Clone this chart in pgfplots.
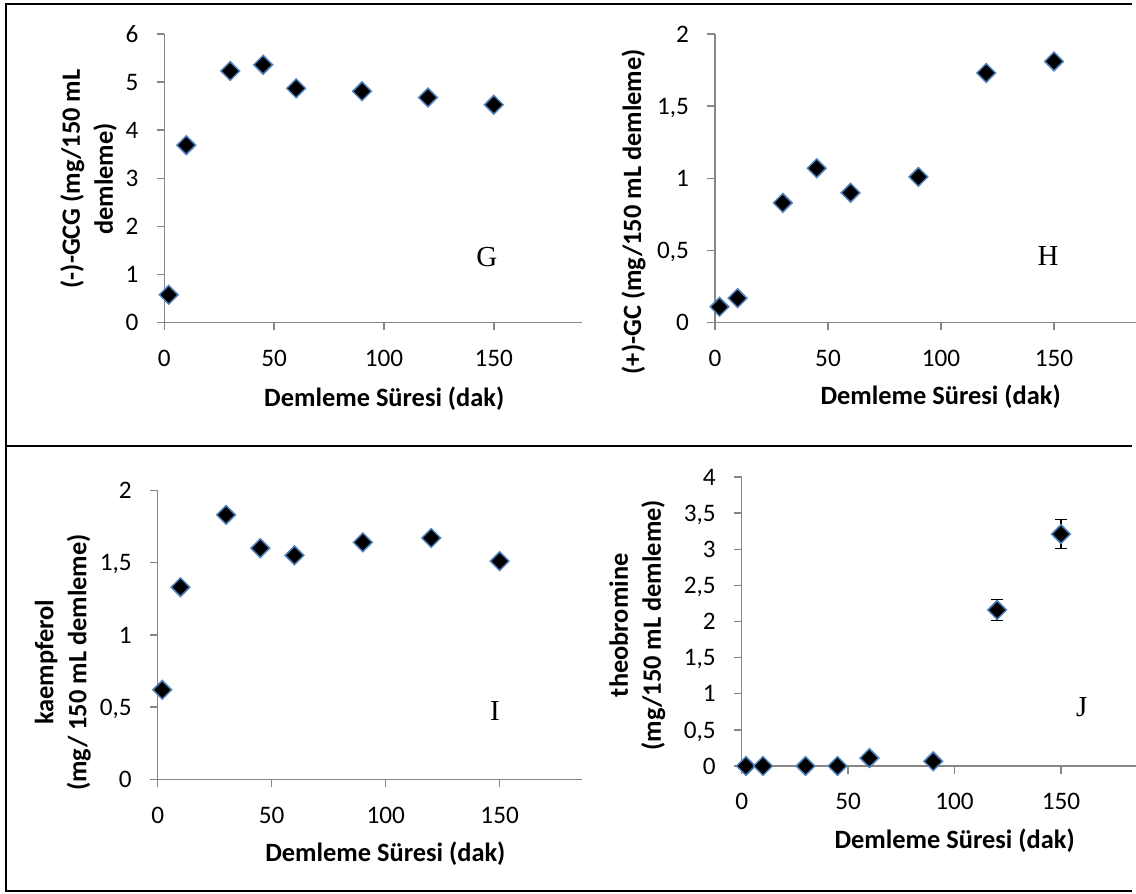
\documentclass[border=0pt]{standalone}
\usepackage{pgfplots}
\pgfplotsset{compat=1.18}
\usepackage{fontspec}
\setmainfont{Carlito}
\newfontfamily\tnr{Liberation Serif}
\definecolor{axgray}{HTML}{868686}
\definecolor{mkblue}{HTML}{4F81BD}
\tikzset{letter/.style={font=\tnr\fontsize{14.5}{16}\selectfont, anchor=center}}
\pgfplotsset{
  panel/.style={
    scale only axis, anchor=origin,
    axis lines=left,
    axis line style={-, draw=axgray, line width=0.75pt},
    tick style={draw=axgray, line width=0.75pt},
    major tick length=3.8pt, tick align=outside,
    xmin=0, ymin=0, enlargelimits=false, clip=false,
    xtick={0,50,100,150},
    /pgf/number format/assume math mode=true,
    /pgf/number format/use comma,
    tick label style={font=\fontsize{12.6}{15}\selectfont},
    xticklabel style={anchor=center, yshift=-14pt},
    yticklabel style={anchor=east, inner xsep=0pt, xshift=-9pt, text depth=0pt},
    label style={font=\bfseries\fontsize{13.2}{16.5}\selectfont, align=center},
    xlabel={Demleme Süresi (dak)},
  },
  mk/.style={only marks, mark=square*, mark size=3.3pt,
    mark options={rotate=45, fill=black, draw=mkblue, line width=0.75pt}},
}
\begin{document}
\begin{tikzpicture}
\useasboundingbox (0,0) rectangle (568pt,447pt);
% frame
\draw[black, line width=1pt] (2.5pt,445pt) -- (566pt,445pt);
\draw[black, line width=1pt] (2.5pt,224pt) -- (566pt,224pt);
\draw[black, line width=1pt] (2.5pt,1.5pt) -- (566pt,1.5pt);
\draw[black, line width=1pt] (3pt,1.5pt) -- (3pt,445pt);

% G
\begin{axis}[panel, at={(82.15pt,285.65pt)}, width=208.7pt, height=144.35pt,
  xmax=190, ymax=6, ytick={0,1,2,3,4,5,6},
  ylabel={(-)-GCG (mg/150 mL\\demleme)},
  ylabel style={at={(axis description cs:-0.1814,0.498)}, anchor=center},
  xlabel style={at={(axis description cs:0.527,-0.262)}, anchor=center}]
\addplot[mk] coordinates {(2,0.58) (10,3.69) (30,5.23) (45,5.36) (60,4.87) (90,4.81) (120,4.68) (150,4.53)};
\node[letter] at (rel axis cs:0.773,0.2286) {G};
\end{axis}

% H
\begin{axis}[panel, at={(357.5pt,285.65pt)}, width=214.7pt, height=144.35pt,
  xmax=190, ymax=2, ytick={0,0.5,1,1.5,2},
  ylabel={(+)-GC (mg/150 mL demleme)},
  ylabel style={at={(axis description cs:-0.1896,0.3845)}, anchor=center},
  xlabel style={at={(axis description cs:0.5256,-0.258)}, anchor=center}]
\addplot[mk] coordinates {(2,0.11) (10,0.17) (30,0.83) (45,1.07) (60,0.90) (90,1.01) (120,1.73) (150,1.81)};
\node[letter] at (rel axis cs:0.7755,0.232) {H};
\end{axis}

% I
\begin{axis}[panel, at={(78.85pt,57.25pt)}, width=212pt, height=144.6pt,
  xmax=186, ymax=2, ytick={0,0.5,1,1.5,2},
  ylabel={kaempferol\\(mg/ 150 mL demleme)},
  ylabel style={at={(axis description cs:-0.2236,0.405)}, anchor=center},
  xlabel style={at={(axis description cs:0.537,-0.258)}, anchor=center}]
\addplot[mk] coordinates {(2,0.62) (10,1.33) (30,1.83) (45,1.60) (60,1.55) (90,1.64) (120,1.67) (150,1.51)};
\node[letter] at (rel axis cs:0.7955,0.236) {I};
\end{axis}

% J
\begin{axis}[panel, at={(370.85pt,64pt)}, width=202.2pt, height=144.5pt,
  xmax=190, ymax=4, ytick={0,0.5,1,1.5,2,2.5,3,3.5,4},
  ylabel={theobromine\\(mg/150 mL demleme)},
  ylabel style={at={(axis description cs:-0.258,0.487)}, anchor=center},
  xlabel style={at={(axis description cs:0.5266,-0.2595)}, anchor=center}]
\addplot[mk] coordinates {(2,0) (10,0) (30,0) (45,0) (60,0.11) (90,0.065)};
\addplot[mk, error bars/.cd, y dir=both, y explicit,
  error bar style={black, line width=0.75pt},
  error mark options={black, rotate=90, mark size=3pt, line width=0.75pt}]
  coordinates {(120,2.16) +- (0,0.145) (150,3.21) +- (0,0.2)};
\node[letter] at (rel axis cs:0.841,0.204) {J};
\end{axis}
\end{tikzpicture}
\end{document}
